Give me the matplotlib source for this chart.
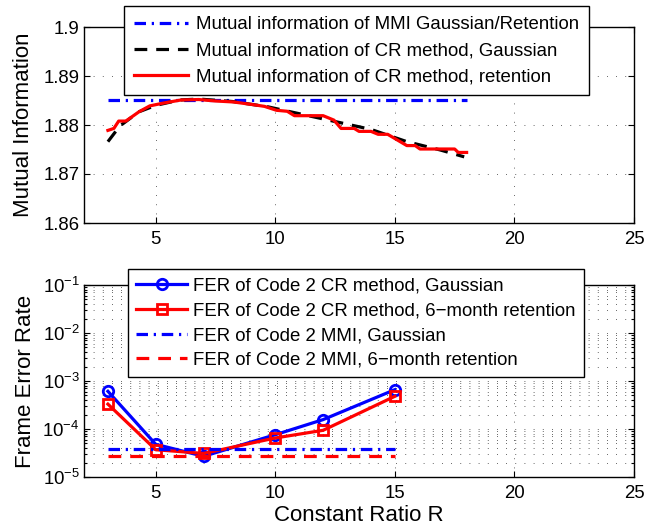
import matplotlib
matplotlib.use("Agg")
import matplotlib.pyplot as plt
from matplotlib.ticker import FixedLocator, LogLocator, NullFormatter

plt.rcParams['font.family'] = ['Liberation Sans', 'DejaVu Sans']
plt.rcParams['mathtext.fontset'] = 'custom'
plt.rcParams['mathtext.rm'] = 'Liberation Sans'
plt.rcParams['mathtext.it'] = 'Liberation Sans'
plt.rcParams['mathtext.bf'] = 'Liberation Sans'

# ---------------- data: top panel ----------------
mmi_x = [3, 18]
mmi_mi = [1.8852, 1.8852]

cr_gauss_x = [3.0, 3.5, 4.3, 5.0, 6.0, 6.8, 8.2, 9.7, 11.1, 12.6, 14.0, 15.5, 16.9, 17.9]
cr_gauss_mi = [1.8766, 1.8798, 1.8827, 1.8840, 1.8851, 1.8853, 1.8848, 1.8837,
               1.8822, 1.8806, 1.8791, 1.8766, 1.8749, 1.8735]

cr_ret_x = [3.0, 3.25, 3.45, 3.75, 4.3, 4.75, 5.35, 6.05, 6.8, 7.5, 8.25, 9.0, 9.55,
            10.05, 10.5, 10.8, 12.0, 12.45, 12.75, 13.3, 13.5, 14.0, 14.3, 14.7,
            15.5, 15.85, 16.05, 17.5, 17.65, 18.0]
cr_ret_mi = [1.8789, 1.8793, 1.8808, 1.8808, 1.8827, 1.8839, 1.8845, 1.8851, 1.8852,
             1.8849, 1.8847, 1.8842, 1.8838, 1.8830, 1.8828, 1.8819, 1.8819, 1.8810,
             1.8793, 1.8793, 1.8787, 1.8787, 1.8781, 1.8781, 1.8758, 1.8758, 1.8751,
             1.8751, 1.8744, 1.8744]

top_yticks = [1.86, 1.87, 1.88, 1.89, 1.9]
top_yticklabels = ['1.86', '1.87', '1.88', '1.89', '1.9']
xticks = [5, 10, 15, 20, 25]

# ---------------- data: bottom panel ----------------
R = [3, 5, 7, 10, 12, 15]
fer_cr_gauss = [6.1e-4, 4.8e-5, 2.7e-5, 7.6e-5, 1.57e-4, 6.6e-4]
fer_cr_ret = [3.3e-4, 3.7e-5, 3.1e-5, 6.5e-5, 9.4e-5, 4.8e-4]
mmi_R = [3, 15]
fer_mmi_gauss = [3.75e-5, 3.75e-5]
fer_mmi_ret = [2.8e-5, 2.8e-5]

labels_top = ['Mutual information of MMI Gaussian/Retention',
              'Mutual information of CR method, Gaussian',
              'Mutual information of CR method, retention']
labels_bot = ['FER of Code 2 CR method, Gaussian',
              'FER of Code 2 CR method, 6\u2212month retention',
              'FER of Code 2 MMI, Gaussian',
              'FER of Code 2 MMI, 6\u2212month retention']

W, H = 658, 527
fig = plt.figure(figsize=(W / 100, H / 100), dpi=100)

L, Rr = 84, 634
ax1 = fig.add_axes([L / W, 1 - 223 / H, (Rr - L) / W, (223 - 27) / H])
ax2 = fig.add_axes([L / W, 1 - 477 / H, (Rr - L) / W, (477 - 285) / H])

FS = 13.4
lw = 2.3
dashdot = (0, (3.6, 1.8, 0.7, 1.8))
dashed = (0, (4, 2.8))
gridkw = dict(color='0.2', linestyle=(0, (1, 10)), linewidth=0.6)

# top
l1, = ax1.plot(mmi_x, mmi_mi, color='#0000ff', lw=lw, linestyle=dashdot)
l2, = ax1.plot(cr_gauss_x, cr_gauss_mi, color='black', lw=lw, linestyle=dashed)
l3, = ax1.plot(cr_ret_x, cr_ret_mi, color='#ff0000', lw=lw)
ax1.set_xlim(2, 25)
ax1.set_ylim(1.86, 1.9)
ax1.set_xticks(xticks)
ax1.set_yticks(top_yticks)
ax1.set_yticklabels(top_yticklabels)
ax1.grid(True, which='major', **gridkw)
ax1.set_ylabel('Mutual Information', fontsize=16)
ax1.yaxis.set_label_coords(-0.091, 0.5)
leg1 = fig.legend([l1, l2, l3], labels_top, loc='upper left',
                  bbox_to_anchor=(124 / W, 1 - 6 / H), bbox_transform=fig.transFigure,
                  borderaxespad=0, fontsize=FS, handlelength=2.9, handletextpad=0.4,
                  labelspacing=0.48, borderpad=0.55, fancybox=False, framealpha=1,
                  edgecolor='black')
leg1.get_frame().set_linewidth(1.0)

# bottom
b1, = ax2.plot(R, fer_cr_gauss, color='#0000ff', lw=lw, marker='o', ms=7.5,
               mfc='none', mew=2)
b2, = ax2.plot(R, fer_cr_ret, color='#ff0000', lw=lw, marker='s', ms=7.5,
               mfc='none', mew=2)
b3, = ax2.plot(mmi_R, fer_mmi_gauss, color='#0000ff', lw=lw, linestyle=dashdot)
b4, = ax2.plot(mmi_R, fer_mmi_ret, color='#ff0000', lw=lw, linestyle=dashed)
ax2.set_yscale('log')
ax2.set_xlim(2, 25)
ax2.set_ylim(1e-5, 1e-1)
ax2.set_xticks(xticks)
ax2.yaxis.set_major_locator(LogLocator(base=10, numticks=10))
ax2.yaxis.set_minor_locator(LogLocator(base=10, subs=range(2, 10), numticks=50))
ax2.yaxis.set_minor_formatter(NullFormatter())
ax2.grid(True, which='major', **gridkw)
ax2.grid(True, which='minor', axis='y', **gridkw)
ax2.set_ylabel('Frame Error Rate', fontsize=16)
ax2.yaxis.set_label_coords(-0.087, 0.5)
ax2.set_xlabel('Constant Ratio R', fontsize=16, labelpad=2)
leg2 = fig.legend([b1, b2, b3, b4], labels_bot, loc='upper left',
                  bbox_to_anchor=(128 / W, 1 - 269 / H), bbox_transform=fig.transFigure,
                  borderaxespad=0, fontsize=FS, handlelength=2.7, handletextpad=0.35,
                  labelspacing=0.42, borderpad=0.45, fancybox=False, framealpha=1,
                  edgecolor='black')
leg2.get_frame().set_linewidth(1.0)

for ax in (ax1, ax2):
    ax.tick_params(which='both', direction='in', top=True, right=True,
                   labelsize=FS, width=0.8)
    ax.tick_params(which='major', length=4)
    ax.tick_params(which='minor', length=2)
    ax.tick_params(axis='x', pad=6)
    ax.tick_params(axis='y', pad=3)
    for s in ax.spines.values():
        s.set_linewidth(1.0)

fig.savefig('out.png', dpi=100)
